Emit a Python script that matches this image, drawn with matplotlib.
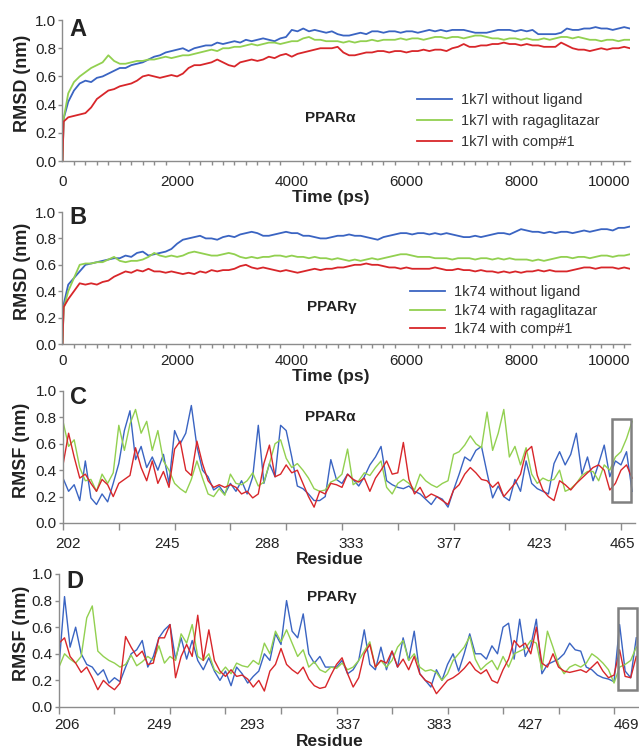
"""
RMSD / RMSF panels for PPARalpha (1k7l) and PPARgamma (1k74)
"""
import numpy as np
import matplotlib.pyplot as plt
from matplotlib.patches import Rectangle

plt.rcParams['font.family'] = ['Liberation Sans', 'DejaVu Sans']

# ── Data ─────────────────────────────────────────────────────────────────────
time_ps = np.concatenate([[0, 20], np.arange(100, 10000, 100)])

rmsd_a_apo = [0.00, 0.30,
    0.42, 0.50, 0.55, 0.57, 0.56, 0.59, 0.60, 0.62, 0.64,
    0.66, 0.66, 0.68, 0.69, 0.70, 0.72, 0.74, 0.75, 0.77, 0.78,
    0.79, 0.80, 0.78, 0.80, 0.81, 0.82, 0.82, 0.84, 0.83, 0.84,
    0.85, 0.84, 0.86, 0.85, 0.86, 0.87, 0.86, 0.85, 0.87, 0.88,
    0.93, 0.92, 0.94, 0.92, 0.93, 0.92, 0.91, 0.92, 0.90, 0.89,
    0.89, 0.90, 0.91, 0.90, 0.92, 0.92, 0.91, 0.92, 0.92, 0.91,
    0.92, 0.92, 0.91, 0.92, 0.93, 0.92, 0.93, 0.92, 0.93, 0.93,
    0.93, 0.92, 0.91, 0.91, 0.91, 0.92, 0.93, 0.93, 0.93, 0.92,
    0.93, 0.92, 0.93, 0.90, 0.90, 0.90, 0.90, 0.91, 0.94, 0.93,
    0.93, 0.94, 0.94, 0.95, 0.94, 0.94, 0.93, 0.94, 0.95, 0.94]
rmsd_a_raga = [0.00, 0.30,
    0.48, 0.56, 0.60, 0.63, 0.66, 0.68, 0.70, 0.75, 0.71,
    0.69, 0.69, 0.70, 0.71, 0.71, 0.72, 0.72, 0.73, 0.74, 0.73,
    0.74, 0.75, 0.75, 0.76, 0.77, 0.78, 0.79, 0.78, 0.80, 0.80,
    0.81, 0.81, 0.82, 0.83, 0.82, 0.83, 0.84, 0.84, 0.83, 0.84,
    0.85, 0.85, 0.87, 0.88, 0.86, 0.86, 0.85, 0.85, 0.85, 0.84,
    0.85, 0.84, 0.85, 0.85, 0.86, 0.85, 0.86, 0.86, 0.86, 0.87,
    0.86, 0.87, 0.87, 0.86, 0.87, 0.88, 0.88, 0.87, 0.88, 0.88,
    0.87, 0.88, 0.89, 0.89, 0.88, 0.87, 0.87, 0.86, 0.87, 0.87,
    0.86, 0.87, 0.86, 0.86, 0.87, 0.86, 0.87, 0.88, 0.88, 0.87,
    0.88, 0.87, 0.86, 0.86, 0.85, 0.86, 0.86, 0.85, 0.86, 0.86]
rmsd_a_comp = [0.00, 0.28,
    0.31, 0.32, 0.33, 0.34, 0.38, 0.44, 0.47, 0.50, 0.51,
    0.53, 0.54, 0.55, 0.57, 0.60, 0.61, 0.60, 0.59, 0.60, 0.61,
    0.60, 0.62, 0.66, 0.68, 0.68, 0.69, 0.70, 0.72, 0.70, 0.68,
    0.67, 0.70, 0.71, 0.72, 0.71, 0.72, 0.74, 0.73, 0.75, 0.76,
    0.74, 0.76, 0.77, 0.78, 0.79, 0.80, 0.80, 0.80, 0.81, 0.77,
    0.75, 0.75, 0.76, 0.77, 0.77, 0.78, 0.78, 0.77, 0.78, 0.78,
    0.77, 0.78, 0.78, 0.79, 0.78, 0.79, 0.79, 0.78, 0.80, 0.81,
    0.83, 0.81, 0.81, 0.82, 0.82, 0.83, 0.83, 0.84, 0.83, 0.83,
    0.82, 0.83, 0.82, 0.82, 0.81, 0.81, 0.81, 0.84, 0.82, 0.80,
    0.79, 0.79, 0.78, 0.79, 0.80, 0.79, 0.80, 0.80, 0.81, 0.80]

rmsd_g_apo = [0.00, 0.30,
    0.45, 0.50, 0.55, 0.60, 0.61, 0.62, 0.63, 0.64, 0.65,
    0.65, 0.67, 0.66, 0.69, 0.70, 0.67, 0.68, 0.69, 0.70, 0.72,
    0.76, 0.79, 0.80, 0.81, 0.82, 0.80, 0.80, 0.79, 0.81, 0.82,
    0.81, 0.83, 0.84, 0.85, 0.84, 0.82, 0.82, 0.83, 0.84, 0.85,
    0.84, 0.84, 0.82, 0.82, 0.81, 0.80, 0.80, 0.81, 0.82, 0.82,
    0.83, 0.82, 0.82, 0.81, 0.80, 0.79, 0.81, 0.82, 0.83, 0.84,
    0.84, 0.83, 0.84, 0.84, 0.83, 0.84, 0.83, 0.84, 0.83, 0.82,
    0.81, 0.81, 0.82, 0.81, 0.82, 0.83, 0.84, 0.84, 0.83, 0.85,
    0.87, 0.86, 0.85, 0.85, 0.84, 0.85, 0.84, 0.85, 0.85, 0.84,
    0.85, 0.86, 0.85, 0.86, 0.87, 0.87, 0.86, 0.88, 0.88, 0.89]
rmsd_g_raga = [0.00, 0.27,
    0.40, 0.50, 0.60, 0.61, 0.61, 0.62, 0.62, 0.64, 0.66,
    0.63, 0.62, 0.63, 0.63, 0.64, 0.66, 0.69, 0.67, 0.66, 0.67,
    0.66, 0.67, 0.69, 0.70, 0.69, 0.68, 0.67, 0.67, 0.68, 0.69,
    0.68, 0.66, 0.65, 0.66, 0.65, 0.66, 0.66, 0.67, 0.67, 0.66,
    0.67, 0.66, 0.66, 0.65, 0.66, 0.65, 0.65, 0.64, 0.65, 0.64,
    0.63, 0.64, 0.63, 0.64, 0.65, 0.64, 0.65, 0.66, 0.67, 0.68,
    0.68, 0.67, 0.66, 0.66, 0.66, 0.65, 0.65, 0.65, 0.64, 0.65,
    0.65, 0.65, 0.64, 0.65, 0.65, 0.64, 0.65, 0.64, 0.65, 0.64,
    0.64, 0.64, 0.63, 0.64, 0.63, 0.64, 0.65, 0.66, 0.66, 0.65,
    0.66, 0.66, 0.65, 0.66, 0.67, 0.67, 0.66, 0.67, 0.67, 0.68]
rmsd_g_comp = [0.00, 0.28,
    0.34, 0.40, 0.46, 0.45, 0.46, 0.45, 0.47, 0.48, 0.51,
    0.53, 0.55, 0.54, 0.56, 0.55, 0.57, 0.55, 0.55, 0.54, 0.55,
    0.54, 0.53, 0.54, 0.53, 0.55, 0.54, 0.56, 0.55, 0.56, 0.56,
    0.57, 0.59, 0.60, 0.58, 0.57, 0.58, 0.57, 0.56, 0.55, 0.56,
    0.55, 0.54, 0.55, 0.56, 0.57, 0.56, 0.57, 0.57, 0.58, 0.58,
    0.59, 0.60, 0.60, 0.61, 0.60, 0.60, 0.59, 0.58, 0.58, 0.57,
    0.58, 0.57, 0.57, 0.57, 0.57, 0.58, 0.57, 0.56, 0.56, 0.57,
    0.56, 0.56, 0.55, 0.56, 0.55, 0.55, 0.54, 0.55, 0.54, 0.55,
    0.54, 0.55, 0.55, 0.56, 0.55, 0.56, 0.55, 0.55, 0.55, 0.56,
    0.57, 0.58, 0.58, 0.57, 0.58, 0.58, 0.58, 0.57, 0.58, 0.57]

# RMSF per residue (sequential index along the chain)
rmsf_a_apo = [
    0.34, 0.24, 0.29, 0.17, 0.47, 0.19, 0.14, 0.22, 0.16, 0.30,
    0.45, 0.70, 0.85, 0.48, 0.58, 0.42, 0.50, 0.40, 0.52, 0.30,
    0.70, 0.60, 0.68, 0.89, 0.58, 0.40, 0.35, 0.25, 0.28, 0.22,
    0.30, 0.24, 0.32, 0.22, 0.35, 0.74, 0.30, 0.45, 0.35, 0.74,
    0.70, 0.50, 0.28, 0.26, 0.22, 0.17, 0.17, 0.20, 0.48, 0.33,
    0.30, 0.37, 0.33, 0.28, 0.35, 0.44, 0.50, 0.58, 0.32, 0.29,
    0.27, 0.26, 0.28, 0.24, 0.22, 0.18, 0.14, 0.20, 0.18, 0.12,
    0.25, 0.37, 0.50, 0.47, 0.55, 0.58, 0.38, 0.19, 0.28, 0.20,
    0.17, 0.33, 0.24, 0.47, 0.30, 0.26, 0.24, 0.22, 0.45, 0.54,
    0.44, 0.52, 0.68, 0.37, 0.50, 0.32, 0.45, 0.59, 0.35, 0.47,
    0.44, 0.54, 0.24]
rmsf_a_raga = [
    0.77, 0.58, 0.63, 0.42, 0.32, 0.33, 0.24, 0.37, 0.30, 0.38,
    0.74, 0.55, 0.75, 0.86, 0.68, 0.77, 0.55, 0.70, 0.47, 0.40,
    0.30, 0.26, 0.23, 0.33, 0.47, 0.34, 0.22, 0.20, 0.26, 0.21,
    0.37, 0.30, 0.29, 0.32, 0.38, 0.28, 0.31, 0.45, 0.60, 0.63,
    0.49, 0.42, 0.45, 0.40, 0.34, 0.26, 0.24, 0.25, 0.31, 0.33,
    0.37, 0.56, 0.29, 0.32, 0.38, 0.36, 0.42, 0.47, 0.27, 0.22,
    0.30, 0.33, 0.30, 0.25, 0.37, 0.32, 0.29, 0.27, 0.30, 0.32,
    0.52, 0.54, 0.59, 0.66, 0.60, 0.57, 0.84, 0.55, 0.68, 0.86,
    0.50, 0.58, 0.44, 0.57, 0.37, 0.30, 0.34, 0.32, 0.33, 0.40,
    0.24, 0.26, 0.30, 0.36, 0.39, 0.39, 0.32, 0.44, 0.40, 0.50,
    0.54, 0.64, 0.77]
rmsf_a_comp = [
    0.44, 0.68, 0.50, 0.34, 0.37, 0.30, 0.24, 0.33, 0.29, 0.20,
    0.30, 0.33, 0.36, 0.57, 0.42, 0.32, 0.47, 0.30, 0.39, 0.27,
    0.56, 0.62, 0.40, 0.36, 0.62, 0.45, 0.32, 0.27, 0.29, 0.27,
    0.29, 0.27, 0.22, 0.24, 0.19, 0.22, 0.45, 0.59, 0.35, 0.37,
    0.44, 0.38, 0.40, 0.30, 0.20, 0.12, 0.24, 0.22, 0.30, 0.29,
    0.27, 0.37, 0.33, 0.31, 0.34, 0.24, 0.34, 0.40, 0.47, 0.37,
    0.38, 0.61, 0.33, 0.22, 0.27, 0.19, 0.22, 0.20, 0.17, 0.14,
    0.25, 0.29, 0.37, 0.42, 0.38, 0.33, 0.32, 0.27, 0.31, 0.20,
    0.25, 0.30, 0.37, 0.54, 0.58, 0.36, 0.25, 0.20, 0.17, 0.32,
    0.29, 0.25, 0.30, 0.34, 0.38, 0.42, 0.44, 0.40, 0.25, 0.30,
    0.40, 0.44, 0.34]

rmsf_g_apo = [
    0.30, 0.83, 0.45, 0.60, 0.40, 0.32, 0.30, 0.24, 0.28, 0.18,
    0.22, 0.19, 0.30, 0.40, 0.43, 0.50, 0.30, 0.38, 0.52, 0.58,
    0.62, 0.36, 0.52, 0.36, 0.50, 0.35, 0.28, 0.37, 0.27, 0.20,
    0.27, 0.16, 0.30, 0.25, 0.18, 0.23, 0.27, 0.40, 0.35, 0.55,
    0.47, 0.80, 0.57, 0.52, 0.70, 0.40, 0.33, 0.38, 0.30, 0.30,
    0.30, 0.35, 0.25, 0.28, 0.35, 0.58, 0.32, 0.28, 0.45, 0.28,
    0.42, 0.30, 0.52, 0.35, 0.57, 0.25, 0.20, 0.15, 0.28, 0.20,
    0.32, 0.40, 0.27, 0.40, 0.55, 0.40, 0.40, 0.36, 0.46, 0.40,
    0.60, 0.63, 0.36, 0.66, 0.38, 0.46, 0.66, 0.25, 0.32, 0.34,
    0.36, 0.40, 0.48, 0.43, 0.42, 0.30, 0.28, 0.24, 0.22, 0.21,
    0.19, 0.62, 0.27, 0.22, 0.52]
rmsf_g_raga = [
    0.30, 0.40, 0.36, 0.33, 0.38, 0.67, 0.76, 0.42, 0.38, 0.35,
    0.33, 0.30, 0.32, 0.39, 0.31, 0.34, 0.38, 0.35, 0.46, 0.33,
    0.38, 0.35, 0.55, 0.48, 0.62, 0.38, 0.35, 0.40, 0.28, 0.25,
    0.30, 0.25, 0.33, 0.31, 0.30, 0.35, 0.32, 0.48, 0.40, 0.57,
    0.49, 0.58, 0.48, 0.38, 0.43, 0.30, 0.34, 0.28, 0.26, 0.30,
    0.29, 0.33, 0.28, 0.30, 0.35, 0.42, 0.49, 0.30, 0.35, 0.30,
    0.35, 0.45, 0.50, 0.35, 0.40, 0.30, 0.27, 0.28, 0.26, 0.20,
    0.25, 0.35, 0.40, 0.45, 0.53, 0.36, 0.28, 0.32, 0.35, 0.28,
    0.38, 0.30, 0.40, 0.42, 0.44, 0.50, 0.48, 0.28, 0.57, 0.45,
    0.32, 0.25, 0.30, 0.32, 0.30, 0.33, 0.40, 0.37, 0.33, 0.28,
    0.18, 0.30, 0.32, 0.35, 0.45]
rmsf_g_comp = [
    0.48, 0.52, 0.38, 0.33, 0.26, 0.30, 0.22, 0.13, 0.20, 0.16,
    0.13, 0.18, 0.53, 0.45, 0.38, 0.42, 0.32, 0.33, 0.52, 0.52,
    0.62, 0.22, 0.38, 0.47, 0.38, 0.69, 0.35, 0.58, 0.35, 0.27,
    0.23, 0.28, 0.23, 0.24, 0.21, 0.15, 0.20, 0.12, 0.27, 0.32,
    0.44, 0.32, 0.28, 0.25, 0.30, 0.21, 0.16, 0.14, 0.15, 0.24,
    0.32, 0.37, 0.25, 0.15, 0.22, 0.40, 0.47, 0.30, 0.35, 0.33,
    0.42, 0.30, 0.36, 0.28, 0.38, 0.25, 0.20, 0.18, 0.10, 0.15,
    0.20, 0.22, 0.25, 0.29, 0.34, 0.28, 0.25, 0.28, 0.20, 0.18,
    0.28, 0.36, 0.50, 0.45, 0.48, 0.40, 0.60, 0.33, 0.30, 0.40,
    0.30, 0.27, 0.26, 0.27, 0.28, 0.26, 0.30, 0.34, 0.27, 0.22,
    0.24, 0.43, 0.23, 0.22, 0.38]

residue_labels_a = ['202', '245', '288', '333', '377', '423', '465']
residue_labels_g = ['206', '249', '293', '337', '383', '427', '469']

legend_a = ['1k7l without ligand', '1k7l with ragaglitazar', '1k7l with comp#1']
legend_g = ['1k74 without ligand', '1k74 with ragaglitazar', '1k74 with comp#1']

# ── Style ────────────────────────────────────────────────────────────────────
COLORS = ['#3a64c2', '#92d050', '#d8262a']
AXC = '#8c8c8c'
TXT = '#222222'


def style_axis(ax, ylabel, xpad):
    for s in ['top', 'right']:
        ax.spines[s].set_visible(False)
    for s in ['left', 'bottom']:
        ax.spines[s].set_color(AXC)
        ax.spines[s].set_linewidth(1.0)
    ax.set_ylim(0, 1.0)
    ax.set_yticks(np.arange(0, 1.01, 0.2))
    ax.set_yticklabels([f'{v:.1f}' for v in np.arange(0, 1.01, 0.2)])
    ax.tick_params(axis='y', length=3, width=1, color=AXC, pad=1.5,
                   labelsize=11, labelcolor=TXT)
    ax.tick_params(axis='x', which='major', length=0, pad=xpad,
                   labelsize=11, labelcolor=TXT)
    ax.tick_params(axis='x', which='minor', direction='out', color=AXC, width=1)
    ax.set_ylabel(ylabel, fontsize=13, fontweight='bold', color=TXT)
    ax.yaxis.label.set_va('center')


def panel_letter(ax, letter, y):
    ax.text(0.013, y, letter, transform=ax.transAxes, fontsize=17,
            fontweight='bold', va='center', ha='left', color=TXT)


fig = plt.figure(figsize=(6.39, 7.51), dpi=100)

# ── A / B: RMSD vs time ──────────────────────────────────────────────────────
rmsd_sets = [
    ([rmsd_a_apo, rmsd_a_raga, rmsd_a_comp], legend_a, 'A', 'PPARα'),
    ([rmsd_g_apo, rmsd_g_raga, rmsd_g_comp], legend_g, 'B', 'PPARγ'),
]
rmsd_boxes = [[0.0978, 0.7856, 0.888, 0.1877], [0.0978, 0.5419, 0.888, 0.1758]]
rmsd_cfg = [  # letter_y, xpad, xlabel_y, legend anchor, labelspacing, tag pos
    (0.93, 10.0, -0.258, (0.625, 0.485), 0.5, (0.427, 0.305)),
    (0.96, 7.5, -0.245, (0.612, 0.445), 0.3, (0.431, 0.28)),
]
for (series, labels, letter, tag), box, cfg in zip(rmsd_sets, rmsd_boxes, rmsd_cfg):
    ly, xpad, xly, lanchor, lsp, tpos = cfg
    ax = fig.add_axes(box)
    lines = []
    for vals, c in zip(series, COLORS):
        ln, = ax.plot(time_ps, vals, color=c, lw=1.3)
        lines.append(ln)
    ax.set_xlim(0, 9900)
    style_axis(ax, 'RMSD (nm)', xpad)
    ax.set_xticks([0, 2000, 4000, 6000, 8000, 9900])
    ax.set_xticklabels(['0', '2000', '4000', '6000', '8000', '10000'])
    ax.get_xticklabels()[-1].set_ha('right')
    ax.set_xticks(np.arange(0, 9801, 200), minor=True)
    ax.tick_params(axis='x', which='minor', length=3)
    ax.set_xlabel('Time (ps)', fontsize=12.5, fontweight='bold', color=TXT)
    ax.xaxis.label.set_va('center')
    ax.xaxis.set_label_coords(0.473, xly)
    ax.yaxis.set_label_coords(-0.071, 0.55)
    panel_letter(ax, letter, ly)
    ax.text(tpos[0], tpos[1], tag, transform=ax.transAxes, fontsize=11,
            fontweight='bold', va='center', color=TXT)
    leg = ax.legend(lines, labels, loc='upper left', bbox_to_anchor=lanchor,
                    frameon=False, fontsize=10.5, handlelength=2.4,
                    handletextpad=0.6, labelspacing=lsp, borderpad=0,
                    borderaxespad=0)
    for t in leg.get_texts():
        t.set_color('#333333')

# ── C / D: RMSF vs residue ───────────────────────────────────────────────────
rmsf_sets = [
    ([rmsf_a_apo, rmsf_a_raga, rmsf_a_comp], residue_labels_a, 'C', 'PPARα'),
    ([rmsf_g_apo, rmsf_g_raga, rmsf_g_comp], residue_labels_g, 'D', 'PPARγ'),
]
rmsf_boxes = [[0.0986, 0.3036, 0.895, 0.1758], [0.0923, 0.0586, 0.906, 0.1771]]
rmsf_cfg = [  # xmax, label positions, letter_y, xpad, xlabel_y, tag pos, highlight box, ylabel x
    (102.5, [0.9, 18.6, 36.6, 51.6, 69.2, 85.3, 100.2], 0.95, 10.0, -0.28,
     (0.423, 0.80), (98.4, 0.16, 3.4, 0.63), -0.072),
    (104.3, [1.4, 18.0, 34.8, 52.1, 68.5, 85.0, 102.2], 0.94, 8.0, -0.263,
     (0.428, 0.83), (100.7, 0.13, 3.4, 0.615), -0.064),
]
for (series, rlabels, letter, tag), box, cfg in zip(rmsf_sets, rmsf_boxes, rmsf_cfg):
    xmax, lpos, ly, xpad, xly, tpos, hbox, ylx = cfg
    ax = fig.add_axes(box)
    for vals, c in zip(series, COLORS):
        ax.plot(np.arange(len(vals)), vals, color=c, lw=1.0)
    ax.set_xlim(0, xmax)
    style_axis(ax, 'RMSF (nm)', xpad)
    ax.set_xticks(lpos)
    ax.set_xticklabels(rlabels)
    ax.set_xticks(np.arange(0, 101, 10), minor=True)
    ax.tick_params(axis='x', which='minor', length=5)
    ax.set_xlabel('Residue', fontsize=12.5, fontweight='bold', color=TXT)
    ax.xaxis.label.set_va('center')
    ax.xaxis.set_label_coords(0.467, xly)
    ax.yaxis.set_label_coords(ylx, 0.55)
    panel_letter(ax, letter, ly)
    ax.text(tpos[0], tpos[1], tag, transform=ax.transAxes, fontsize=11,
            fontweight='bold', va='center', color=TXT)
    ax.add_patch(Rectangle((hbox[0], hbox[1]), hbox[2], hbox[3], fill=False,
                           edgecolor='#808080', lw=1.8, zorder=5, clip_on=False))

fig.savefig('out.png', dpi=100)
